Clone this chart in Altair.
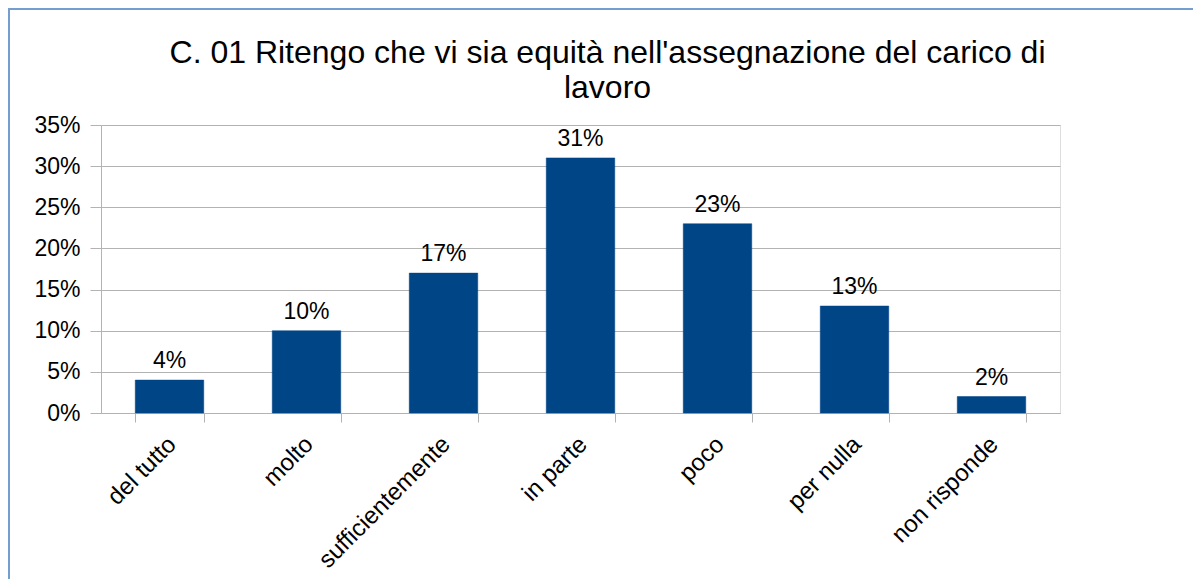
import altair as alt
import pandas as pd

categories = ["del tutto", "molto", "sufficientemente", "in parte", "poco", "per nulla", "non risponde"]
values = [0.04, 0.10, 0.17, 0.31, 0.23, 0.13, 0.02]
y_ticks = [0, 0.05, 0.10, 0.15, 0.20, 0.25, 0.30, 0.35]
title_lines = ["C. 01 Ritengo che vi sia equità nell'assegnazione del carico di", "lavoro"]

df = pd.DataFrame({"cat": categories, "val": values})
FONT = "Liberation Sans"

base = alt.Chart(df)

bars = base.mark_bar(color="#004586", stroke="#004586", strokeWidth=0.5).encode(
    x=alt.X("cat:N", sort=categories, title=None,
            scale=alt.Scale(paddingInner=0.5, paddingOuter=0.25),
            axis=alt.Axis(labelAngle=-45, labelAlign="right", labelBaseline="top",
                          labelFont=FONT, labelFontSize=24, labelColor="#000000",
                          labelPadding=10, labelOffset=-6, tickBand="extent", tickSize=9,
                          tickColor="#b3b3b3", domainColor="#b3b3b3", grid=False)),
    y=alt.Y("val:Q", title=None,
            scale=alt.Scale(domain=[0, 0.35], nice=False),
            axis=alt.Axis(values=y_ticks, format=".0%", labelFont=FONT, labelFontSize=23,
                          labelColor="#000000", labelPadding=10, tickSize=11,
                          tickColor="#b3b3b3", domainColor="#b3b3b3",
                          gridColor="#b3b3b3", grid=True)),
)

labels = base.mark_text(baseline="alphabetic", dy=-12, font=FONT, fontSize=23, color="#000000").encode(
    x=alt.X("cat:N", sort=categories),
    y=alt.Y("val:Q"),
    text=alt.Text("val:Q", format=".0%"),
)

frame_df = pd.DataFrame({"a": [0]})
frame_left = alt.Chart(frame_df).mark_rule(color="#729fcf", strokeWidth=2).encode(
    x=alt.value(-92), x2=alt.value(-92), y=alt.value(-116), y2=alt.value(600))
frame_top = alt.Chart(frame_df).mark_rule(color="#729fcf", strokeWidth=2).encode(
    x=alt.value(-93), x2=alt.value(1300), y=alt.value(-116), y2=alt.value(-116))

chart = alt.layer(bars, labels, frame_left, frame_top).properties(
    width=959, height=288,
    autosize=alt.AutoSizeParams(type="none"),
    padding={"left": 93, "top": 117, "right": 133, "bottom": 166},
    title=alt.TitleParams(text=title_lines, font=FONT, fontSize=32, fontWeight="normal",
                          color="#000000", anchor="middle", dx=27, offset=-97, lineHeight=35),
).configure_view(stroke="#b3b3b3").configure(background="white")

chart.save("out.html", embed_options={"renderer": "svg", "actions": False})
